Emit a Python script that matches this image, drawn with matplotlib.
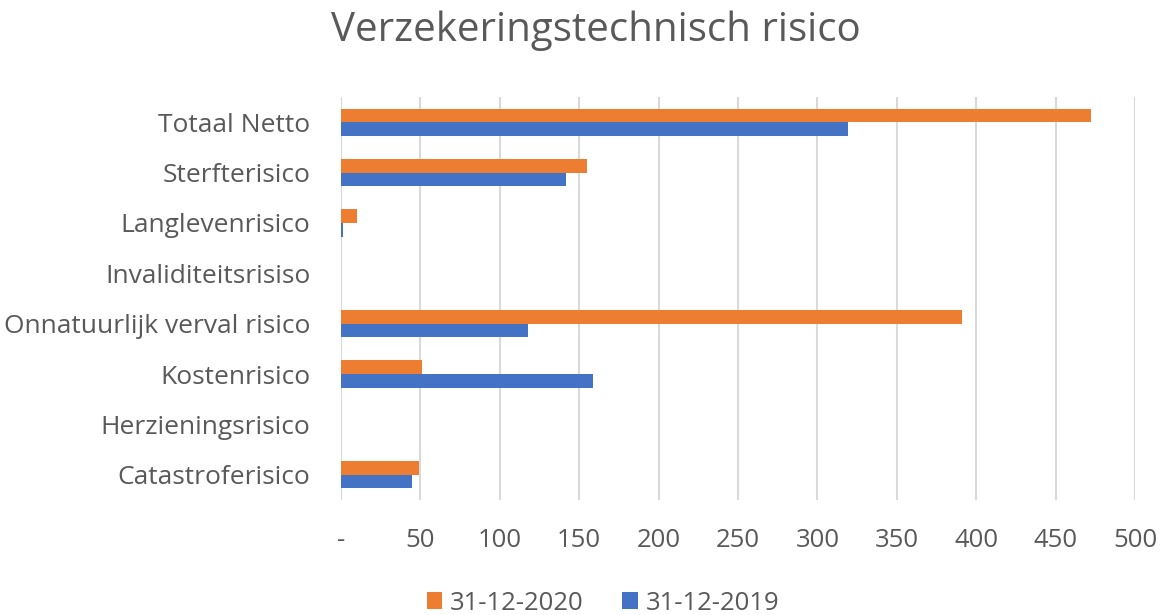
import numpy as np
import matplotlib.pyplot as plt

plt.rcParams['font.family'] = ['Open Sans', 'DejaVu Sans']

# data
categories = ["Totaal Netto", "Sterfterisico", "Langlevenrisico", "Invaliditeitsrisiso",
              "Onnatuurlijk verval risico", "Kostenrisico", "Herzieningsrisico", "Catastroferisico"]
val_2020 = [472, 155, 10, 0, 391, 51, 0, 49]
val_2019 = [319, 142, 1, 0, 118, 159, 0, 45]
xticks = [0, 50, 100, 150, 200, 250, 300, 350, 400, 450, 500]
xticklabels = ["-", "50", "100", "150", "200", "250", "300", "350", "400", "450", "500"]

col_2020 = "#ED7D31"
col_2019 = "#4472C4"
grey = "#595959"

fig = plt.figure(figsize=(11.63, 6.15), dpi=100)
ax = fig.add_axes([341 / 1163, 1 - 500 / 615, (1135 - 341) / 1163, (500 - 97) / 615])

y = np.arange(len(categories))
h = 0.27
ax.barh(y - h / 2, val_2020, height=h, color=col_2020, label="31-12-2020", zorder=3)
ax.barh(y + h / 2, val_2019, height=h, color=col_2019, label="31-12-2019", zorder=3)

ax.set_ylim(len(categories) - 0.5, -0.5)
ax.set_xlim(0, 500)
ax.set_yticks(y)
ax.set_yticklabels(categories, fontsize=19, color=grey)
ax.set_xticks(xticks)
ax.set_xticklabels(xticklabels, fontsize=18.5, color=grey)
ax.tick_params(axis='both', length=0)
ax.tick_params(axis='x', pad=20)
ax.tick_params(axis='y', pad=22)
ax.grid(axis='x', color="#D9D9D9", linewidth=1.5, zorder=0)
for s in ax.spines.values():
    s.set_visible(False)

fig.text(596 / 1163, 1 - 31 / 615, "Verzekeringstechnisch risico", ha='center', va='center',
         fontsize=29, color=grey)

fig.legend(loc='center', bbox_to_anchor=(603 / 1163, 1 - 603 / 615), ncol=2, frameon=False,
           fontsize=18.5, handlelength=0.6, handleheight=0.6, handletextpad=0.3,
           columnspacing=1.5, labelcolor=grey)

fig.savefig("out.png", dpi=100)
